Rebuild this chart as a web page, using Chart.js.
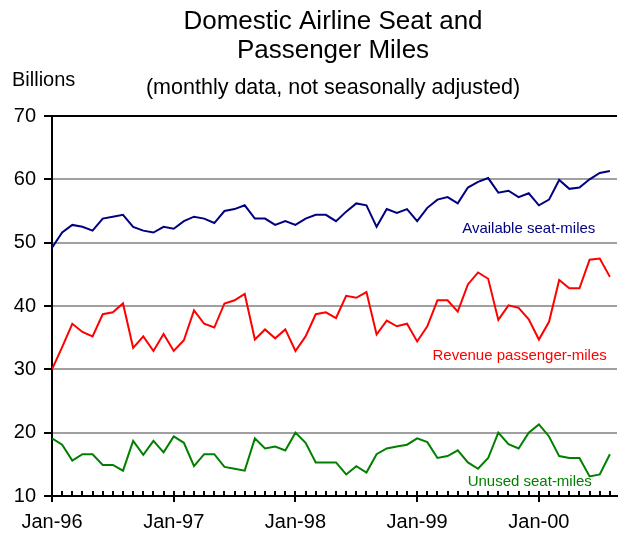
<!DOCTYPE html>
<html>
<head>
<meta charset="utf-8">
<script src="https://cdn.jsdelivr.net/npm/chart.js@4.4.0/dist/chart.umd.min.js"></script>
<style>
  html, body { margin: 0; padding: 0; background: #fff; }
  #wrap { width: 618px; height: 537px; }
</style>
</head>
<body>
<div id="wrap"><canvas id="chart" width="618" height="537"></canvas></div>
<script>
// =========================
// DATA (Jan-96 .. Aug-00, billions)
// =========================
const availableSeatMiles = [
  49.2, 51.6, 52.8, 52.5, 51.9, 53.8, 54.1, 54.4, 52.5, 51.9, 51.6, 52.5,
  52.2, 53.4, 54.1, 53.8, 53.1, 55.0, 55.3, 55.9, 53.8, 53.8, 52.8, 53.4,
  52.8, 53.8, 54.4, 54.4, 53.4, 54.9, 56.2, 55.9, 52.5, 55.3, 54.7, 55.3,
  53.4, 55.5, 56.8, 57.2, 56.2, 58.7, 59.6, 60.2, 57.9, 58.2, 57.2, 57.8,
  55.9, 56.8, 59.9, 58.5, 58.7, 60.0, 61.0, 61.3
];
const revenuePassengerMiles = [
  30.0, 33.5, 37.2, 35.9, 35.2, 38.7, 39.0, 40.4, 33.4, 35.2, 32.9, 35.6,
  32.9, 34.6, 39.3, 37.2, 36.6, 40.4, 40.9, 41.9, 34.7, 36.3, 34.9, 36.3,
  32.9, 35.2, 38.7, 39.0, 38.1, 41.6, 41.3, 42.2, 35.5, 37.7, 36.8, 37.2,
  34.4, 36.8, 40.9, 40.9, 39.1, 43.4, 45.3, 44.3, 37.8, 40.1, 39.7, 37.9,
  34.7, 37.5, 44.1, 42.8, 42.8, 47.3, 47.5, 44.6
];
const unusedSeatMiles = [
  19.1, 18.1, 15.6, 16.6, 16.6, 14.9, 14.9, 14.0, 18.7, 16.5, 18.7, 16.9,
  19.4, 18.4, 14.7, 16.6, 16.6, 14.6, 14.3, 14.0, 19.1, 17.5, 17.8, 17.2,
  20.0, 18.4, 15.3, 15.3, 15.3, 13.4, 14.7, 13.7, 16.6, 17.5, 17.8, 18.1,
  19.1, 18.5, 16.0, 16.3, 17.2, 15.3, 14.3, 16.0, 20.0, 18.2, 17.5, 20.0,
  21.3, 19.4, 16.3, 16.0, 16.0, 13.1, 13.4, 16.6
];
const xTickLabels = ["Jan-96", "Jan-97", "Jan-98", "Jan-99", "Jan-00"];
const xTickMonths = [0, 12, 24, 36, 48];
const yTicks = [10, 20, 30, 40, 50, 60, 70];

const FONT = "'Liberation Sans', Arial, sans-serif";
const toPoints = (arr) => arr.map((v, i) => ({ x: i, y: v }));

// =========================
// PLUGINS
// =========================
// titles + "Billions"
const textPlugin = {
  id: "texts",
  afterDraw(chart) {
    const c = chart.ctx;
    c.save();
    c.fillStyle = "#000";
    c.textAlign = "center";
    c.textBaseline = "middle";
    c.font = "26px " + FONT;
    c.fillText("Domestic Airline Seat and", 333, 22);
    c.fillText("Passenger Miles", 333, 51);
    c.font = "21.5px " + FONT;
    c.fillText("(monthly data, not seasonally adjusted)", 333, 88);
    c.textAlign = "left";
    c.font = "20px " + FONT;
    c.fillText("Billions", 12, 80);
    c.restore();
  }
};

// monthly tick marks on the x axis
const monthTicks = {
  id: "monthTicks",
  afterDraw(chart) {
    const x = chart.scales.x;
    const c = chart.ctx;
    const yb = x.top;
    c.save();
    c.strokeStyle = "#000";
    c.lineWidth = 2;
    for (let i = 0; i < availableSeatMiles.length; i++) {
      const px = Math.round(x.getPixelForValue(i));
      const major = i % 12 === 0;
      c.beginPath();
      c.moveTo(px, yb - 5);
      c.lineTo(px, major ? yb + 6 : yb);
      c.stroke();
    }
    c.restore();
  }
};

// series names
const seriesLabels = [
  { text: "Available seat-miles", x: 47.0, y: 52.2, color: "#000080" },
  { text: "Revenue passenger-miles", x: 46.1, y: 32.1, color: "#ff0000" },
  { text: "Unused seat-miles", x: 47.1, y: 12.2, color: "#008000" }
];
const labelPlugin = {
  id: "seriesLabels",
  afterDatasetsDraw(chart) {
    const c = chart.ctx;
    const { x, y } = chart.scales;
    c.save();
    c.font = "15px " + FONT;
    c.textAlign = "center";
    c.textBaseline = "middle";
    seriesLabels.forEach((l) => {
      c.fillStyle = l.color;
      c.fillText(l.text, x.getPixelForValue(l.x), y.getPixelForValue(l.y));
    });
    c.restore();
  }
};

// =========================
// CHART
// =========================
const lineSet = (label, data, color) => ({
  label,
  data: toPoints(data),
  borderColor: color,
  backgroundColor: color,
  borderWidth: 2,
  pointRadius: 0,
  tension: 0,
  fill: false
});

new Chart(document.getElementById("chart"), {
  type: "line",
  data: {
    datasets: [
      lineSet("Available seat-miles", availableSeatMiles, "#000080"),
      lineSet("Revenue passenger-miles", revenuePassengerMiles, "#ff0000"),
      lineSet("Unused seat-miles", unusedSeatMiles, "#008000")
    ]
  },
  options: {
    responsive: false,
    animation: false,
    layout: { padding: { top: 116, right: 1, left: 0, bottom: 0 } },
    plugins: {
      legend: { display: false },
      title: { display: false },
      tooltip: { enabled: false }
    },
    scales: {
      x: {
        type: "linear",
        min: 0,
        max: 55.7,
        afterBuildTicks: (s) => { s.ticks = xTickMonths.map((v) => ({ value: v })); },
        afterFit: (s) => { s.height = 41; },
        grid: { display: true, drawOnChartArea: false, drawTicks: false },
        border: { display: true, color: "#000", width: 2 },
        ticks: {
          color: "#000",
          font: { family: FONT, size: 20 },
          padding: 14,
          maxRotation: 0,
          autoSkip: false,
          callback: (v) => xTickLabels[xTickMonths.indexOf(v)] || ""
        }
      },
      y: {
        min: 10,
        max: 70,
        afterBuildTicks: (s) => { s.ticks = yTicks.map((v) => ({ value: v })); },
        afterFit: (s) => { s.width = 52; },
        grid: {
          color: (ctx) => (ctx.tick && ctx.tick.value === 70 ? "#000" : "#a0a0a0"),
          lineWidth: 2,
          drawTicks: true,
          tickLength: 8,
          tickColor: "#000",
          tickWidth: 2
        },
        border: { display: true, color: "#000", width: 2 },
        ticks: {
          color: "#000",
          font: { family: FONT, size: 20 },
          padding: 8
        }
      }
    }
  },
  plugins: [textPlugin, monthTicks, labelPlugin]
});
</script>
</body>
</html>
